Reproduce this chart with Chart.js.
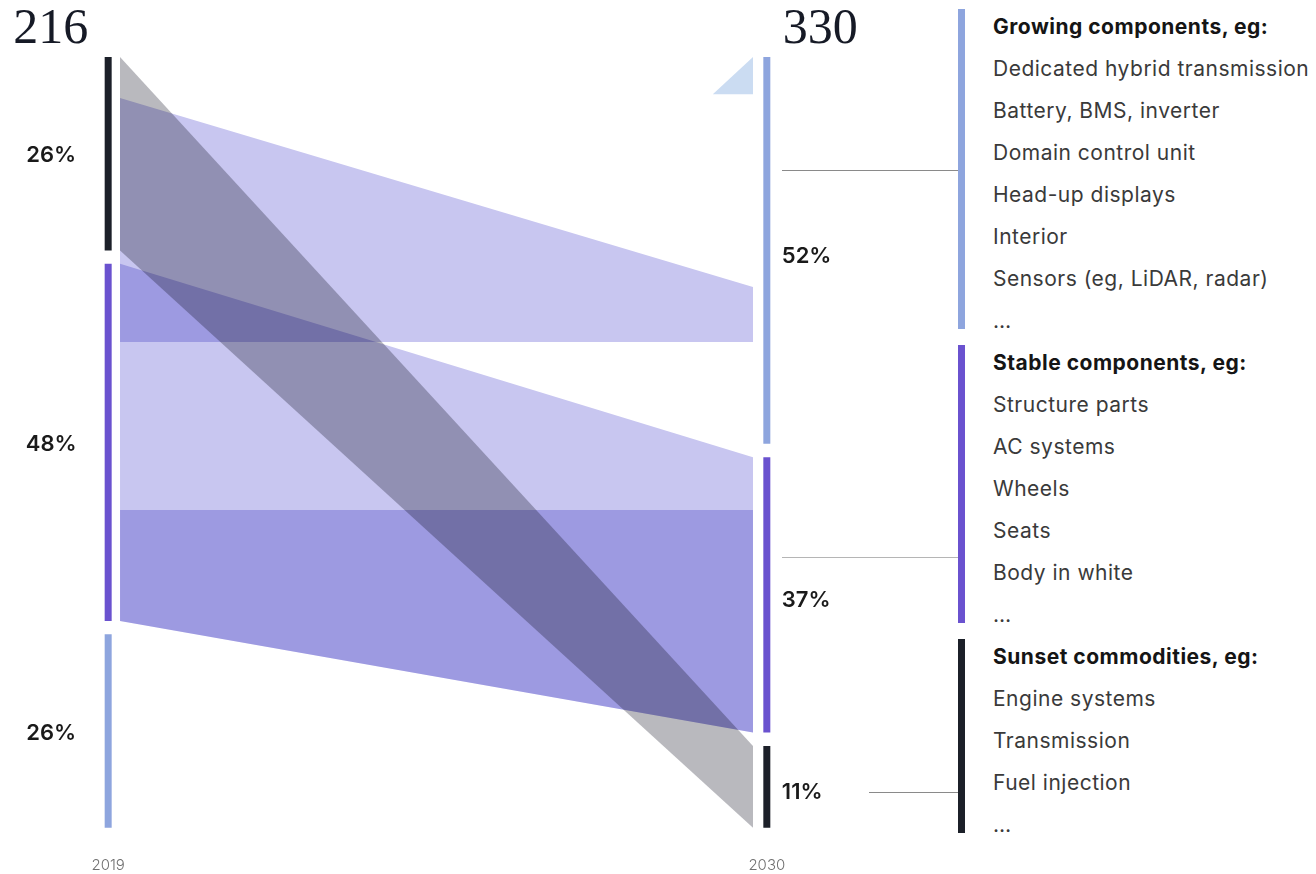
<!DOCTYPE html>
<html>
<head>
<meta charset="utf-8">
<script src="https://cdn.jsdelivr.net/npm/chart.js@4.4.1/dist/chart.umd.min.js"></script>
<style>
  html, body { margin: 0; padding: 0; background: #fff; }
  body { width: 1316px; height: 874px; position: relative; overflow: hidden; font-family: Inter, "Noto Sans", sans-serif; }
  #wrap { position: absolute; left: 0; top: 0; width: 960px; height: 874px; }
  .rule { position: absolute; height: 0; border-top: 1px solid #8a8a8a; }
  .bar { position: absolute; left: 958px; width: 7px; }
  .line { position: absolute; left: 993px; white-space: nowrap; font-size: 21px; letter-spacing: 0.5px; line-height: 24px; color: #3a3a3a; }
  .line.head { font-weight: 700; color: #151515; }
</style>
</head>
<body>
<div id="wrap"><canvas id="flows" width="960" height="874"></canvas></div>
<div class="rule" style="left:782px; width:176px; top:170px"></div>
<div class="rule" style="left:782px; width:176px; top:557px; border-color:#b5b5b5"></div>
<div class="rule" style="left:869px; width:89px; top:792px"></div>
<div id="panel"></div>
<script>
const years = ['2019', '2030'];
const totals = [216, 330];

// column shares, listed top to bottom
const leftNames = ['sunset', 'stable', 'growing'];
const leftShares = [26, 48, 26];
const rightNames = ['growing', 'stable', 'sunset'];
const rightShares = [52, 37, 11];

// extra bands, in share units on the stacked axis ([2019 top, 2019 bottom], [2030 top, 2030 bottom])
const shiftFrom = [5.5, 38.3];
const shiftTo = [30.9, 38.3];
const coreLevel = 60.9;
const wedge = [5.0, 0];

const growingItems = ['Dedicated hybrid transmission', 'Battery, BMS, inverter', 'Domain control unit', 'Head-up displays', 'Interior', 'Sensors (eg, LiDAR, radar)', '…'];
const stableItems = ['Structure parts', 'AC systems', 'Wheels', 'Seats', 'Body in white', '…'];
const sunsetItems = ['Engine systems', 'Transmission', 'Fuel injection', '…'];

const colors = { sunset: '#1c2029', stable: '#6a52cf', growing: '#8ea5de' };
const bandPurple = '#c8c6f0';
const bandGray = '#b9b9be';
const bandBlue = '#cbdcf2';

const GAP = 1.8;
const X0 = 0.018, X1 = 0.979, WEDGE_X = 0.918;

function stack(shares) {
  let y = 0;
  return shares.map(s => { const seg = [y, y + s]; y += s + GAP; return seg; });
}
const leftSeg = stack(leftShares);
const rightSeg = stack(rightShares);

const datasets = [];
function band(xa, xb, from, to, color) {
  datasets.push({ data: [{ x: xa, y: from[0] }, { x: xb, y: to[0] }], backgroundColor: color,
    borderWidth: 0, pointRadius: 0, fill: '+1' });
  datasets.push({ data: [{ x: xa, y: from[1] }, { x: xb, y: to[1] }], borderWidth: 0, pointRadius: 0, fill: false });
}
function node(x, seg, color) {
  datasets.push({ data: [{ x: x, y: seg[0] }, { x: x, y: seg[1] }], borderColor: color, borderWidth: 7,
    borderCapStyle: 'butt', pointRadius: 0, fill: false });
}

const sunsetL = leftSeg[leftNames.indexOf('sunset')], sunsetR = rightSeg[rightNames.indexOf('sunset')];
const stableL = leftSeg[leftNames.indexOf('stable')], stableR = rightSeg[rightNames.indexOf('stable')];

band(X0, X1, sunsetL, sunsetR, bandGray);
band(X0, X1, shiftFrom, shiftTo, bandPurple);
band(X0, X1, stableL, stableR, bandPurple);
band(X0, X1, [coreLevel, stableL[1]], [coreLevel, stableR[1]], bandPurple);
band(WEDGE_X, X1, [wedge[0], wedge[0]], [wedge[1], wedge[0]], bandBlue);
leftSeg.forEach((s, i) => node(0, s, colors[leftNames[i]]));
rightSeg.forEach((s, i) => node(1, s, colors[rightNames[i]]));

// overlapping bands darken each other
const multiplyFills = {
  id: 'multiplyFills',
  beforeDatasetsDraw(chart) { chart.ctx.save(); chart.ctx.globalCompositeOperation = 'multiply'; },
  afterDatasetsDraw(chart) { chart.ctx.restore(); }
};

const columnLabels = {
  id: 'columnLabels',
  afterDraw(chart) {
    const { ctx, scales: { x, y } } = chart;
    const xl = x.getPixelForValue(0), xr = x.getPixelForValue(1);
    ctx.save();
    ctx.fillStyle = '#161a26';
    ctx.font = '50px "Liberation Serif"';
    ctx.textAlign = 'left';
    ctx.textBaseline = 'alphabetic';
    ctx.fillText(String(totals[0]), xl - 95, y.top - 14);
    ctx.fillText(String(totals[1]), xr + 16, y.top - 14);

    ctx.font = '600 22px Inter';
    ctx.fillStyle = '#1a1a1a';
    ctx.textBaseline = 'middle';
    ctx.textAlign = 'center';
    leftSeg.forEach((s, i) => ctx.fillText(leftShares[i] + '%', xl - 57, y.getPixelForValue((s[0] + s[1]) / 2) + 2));
    ctx.textAlign = 'left';
    rightSeg.forEach((s, i) => ctx.fillText(rightShares[i] + '%', xr + 15, y.getPixelForValue((s[0] + s[1]) / 2) + 6));
    ctx.restore();
  }
};

new Chart(document.getElementById('flows').getContext('2d'), {
  type: 'line',
  data: { datasets },
  options: {
    responsive: false,
    animation: false,
    devicePixelRatio: 1,
    layout: { padding: { left: 95, right: 180, top: 57, bottom: 0 } },
    plugins: { legend: { display: false }, tooltip: { enabled: false } },
    scales: {
      x: {
        type: 'linear', min: -0.02, max: 1.02,
        grid: { display: false, drawTicks: false, tickLength: 0 },
        border: { display: false },
        afterBuildTicks: axis => { axis.ticks = years.map((_, i) => ({ value: i })); },
        ticks: { padding: 0, maxRotation: 0, autoSkip: false, color: '#707070',
          font: { family: 'Inter', size: 15, weight: 300 }, callback: v => years[v] }
      },
      y: { type: 'linear', reverse: true, min: 0, max: 107.4, display: false }
    }
  },
  plugins: [multiplyFills, columnLabels]
});

// category list on the right
const panel = document.getElementById('panel');
const groups = [
  ['Growing components, eg:', growingItems, colors.growing],
  ['Stable components, eg:', stableItems, colors.stable],
  ['Sunset commodities, eg:', sunsetItems, colors.sunset]
];
const LINE = 42, FIRST = 27;
let row = 0;
groups.forEach(([title, items, color]) => {
  const first = FIRST + row * LINE;
  const last = FIRST + (row + items.length) * LINE;
  const bar = document.createElement('div');
  bar.className = 'bar';
  bar.style.background = color;
  bar.style.top = (first - 18) + 'px';
  bar.style.height = (last + 8 - (first - 18)) + 'px';
  panel.appendChild(bar);
  [title].concat(items).forEach((t, k) => {
    const d = document.createElement('div');
    d.className = k === 0 ? 'line head' : 'line';
    d.textContent = t;
    d.style.top = (FIRST + row * LINE - 12) + 'px';
    panel.appendChild(d);
    row++;
  });
});
</script>
</body>
</html>
